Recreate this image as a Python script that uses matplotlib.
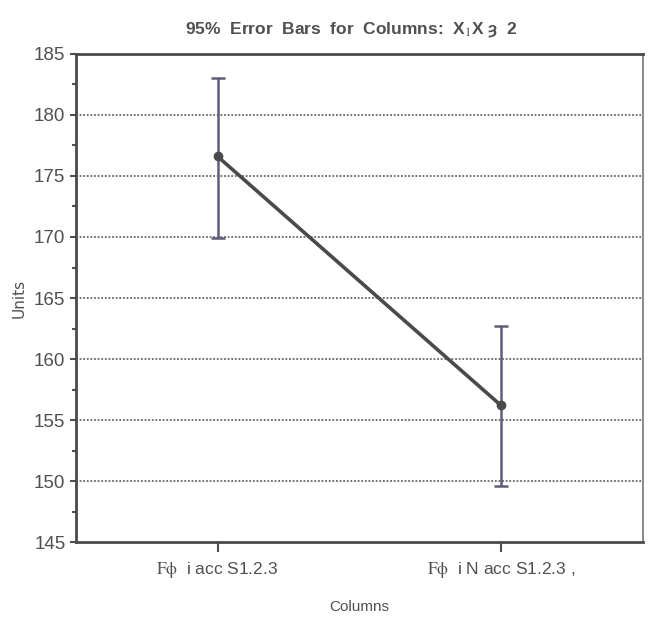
import numpy as np
import matplotlib.pyplot as plt

# group means with 95% confidence limits
groups = [r"$\mathrm{F\phi}$  i acc S1.2.3", r"$\mathrm{F\phi}$  i N acc S1.2.3 ,"]
means = [176.6, 156.2]
upper = [183.0, 162.7]
lower = [169.9, 149.6]
y_ticks = [145, 150, 155, 160, 165, 170, 175, 180, 185]

plt.rcParams['font.family'] = ['Liberation Sans', 'DejaVu Sans']
plt.rcParams['mathtext.fontset'] = 'stix'

grey = '#505050'
fig = plt.figure(figsize=(6.48, 6.19), dpi=100)
ax = fig.add_axes([0.117, 0.124, 0.875, 0.789])

x = np.arange(1, len(groups) + 1)
means = np.array(means)
yerr = [means - np.array(lower), np.array(upper) - means]

# gridlines at the inner major ticks
for v in y_ticks[1:-1]:
    ax.axhline(v, color='#666666', lw=1.3, ls=(0, (1, 1)), zorder=1)

ax.errorbar(x, means, yerr=yerr, fmt='none', ecolor='#5f5d78', elinewidth=1.8,
            capsize=5, capthick=1.8, zorder=2)
ax.plot(x, means, color='#4a4a4a', lw=2.6, marker='o', ms=6, zorder=3)

ax.set_xlim(0.5, 2.5)
ax.set_ylim(145, 185)
ax.set_yticks(y_ticks)
ax.set_yticks(np.arange(147.5, 185, 5), minor=True)
ax.set_xticks(x)
ax.set_xticklabels(groups, fontsize=12.5, color=grey)
ax.tick_params(axis='y', labelsize=13.5, colors=grey, length=4, width=1.5)
ax.tick_params(axis='y', which='minor', length=3, width=1.5, color=grey)
ax.tick_params(axis='x', length=7, width=1.5, colors=grey, pad=6)

for s in ax.spines.values():
    s.set_color('#4a4a4a')
    s.set_linewidth(2)
ax.spines['right'].set_linewidth(1.2)
ax.spines['right'].set_color('#777777')

ax.set_title('95%  Error  Bars  for  Columns:  X$_1$X ȝ  2', fontsize=12.5, color=grey,
             fontweight='bold', pad=14, x=0.485)
ax.set_ylabel('Units', fontsize=11, color=grey, family='DejaVu Sans', labelpad=5)
ax.set_xlabel('Columns', fontsize=11, color=grey, labelpad=14)

plt.savefig('out.png')
